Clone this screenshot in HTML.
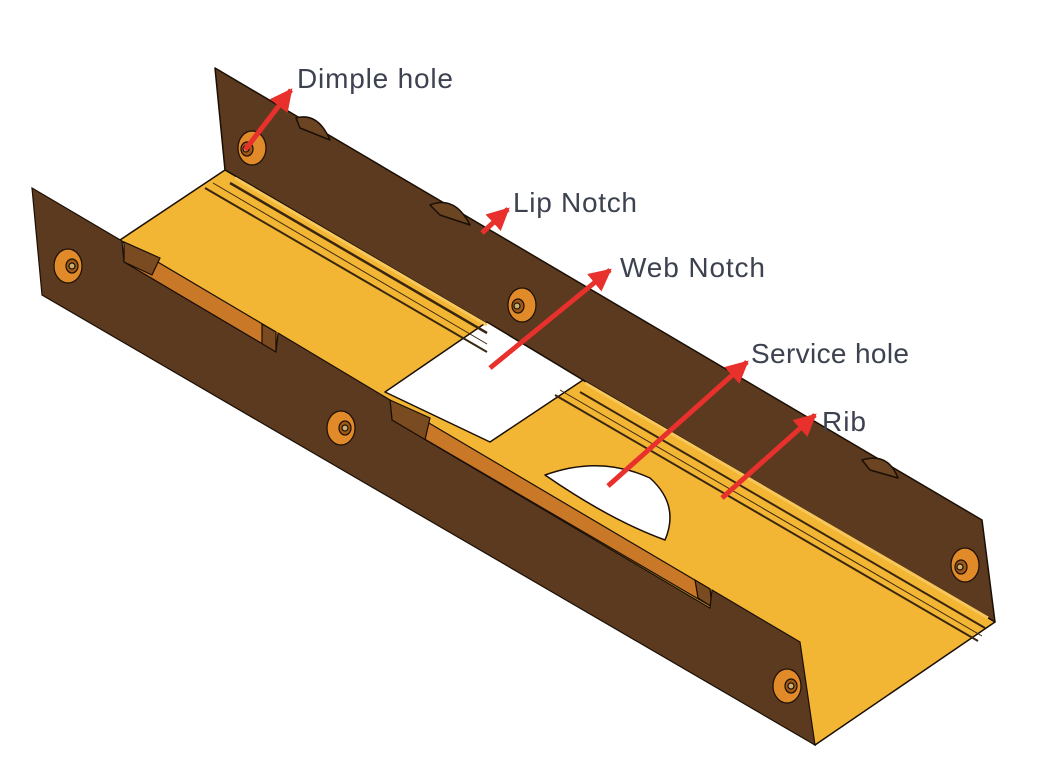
<!DOCTYPE html>
<html><head><meta charset="utf-8"><style>
html,body{margin:0;padding:0;background:#fff;width:1061px;height:762px;overflow:hidden}
svg{display:block}
text{font-family:"Liberation Sans",sans-serif;font-size:28px;fill:#3d4250}
</style></head><body>
<svg width="1061" height="762" viewBox="0 0 1061 762" xmlns="http://www.w3.org/2000/svg">
<g stroke="#1a0f05" stroke-width="1.5" stroke-linejoin="round">
<!-- back flange -->
<polygon points="215,68 982,520 995,622 225,170" fill="#5c3a1f"/>
<!-- lip notch bumps back -->
<path d="M296,118 Q318,112 330,140 L300,128 Z" fill="#6b4422"/>
<path d="M430,205 Q455,195 470,225 L440,215 Z" fill="#6b4422"/>
<path d="M862,460 Q888,452 898,478 L870,470 Z" fill="#6b4422"/>
<!-- web -->
<polygon points="225,170 995,622 815,745 120,240" fill="#f3b634"/>
<!-- web notch gap -->
<polygon points="487,322 583,380 490,442 385,392" fill="#fff" stroke="#1a0f05"/>
<!-- service hole -->
<path d="M545,475 Q600,455 650,478 Q680,505 665,540 Q610,520 545,475 Z" fill="#fff"/>
</g>
<!-- ribs -->
<g stroke="#3a2610" fill="none">
<line x1="205" y1="188" x2="487" y2="352" stroke-width="2"/>
<line x1="213" y1="183" x2="487" y2="344" stroke-width="1"/>
<line x1="230" y1="183" x2="487" y2="333" stroke-width="2.5"/>
<line x1="555" y1="395" x2="978" y2="641" stroke-width="2"/>
<line x1="560" y1="390" x2="982" y2="636" stroke-width="1"/>
<line x1="580" y1="392" x2="985" y2="628" stroke-width="2"/>
</g>
<line x1="235" y1="178" x2="487" y2="325" stroke="#f7c75a" stroke-width="3"/>
<line x1="585" y1="383" x2="988" y2="618" stroke="#f7c75a" stroke-width="3"/>
<!-- orange notch bands -->
<g stroke="#1a0f05" stroke-width="1.2">
<polygon points="124,242 276,332 276,352 124,262" fill="#c97828"/>
<polygon points="124,242 160,258 152,275 124,262" fill="#7a4a20"/>
<polygon points="262,324 276,332 276,352 262,346" fill="#7a4a20"/>
<polygon points="390,400 710,589 712,607 392,420" fill="#c97828"/>
<polygon points="390,400 430,418 425,440 392,420" fill="#7a4a20"/>
<polygon points="695,580 710,589 712,607 698,598" fill="#7a4a20"/>
<!-- front flange -->
<polygon points="32,188 122,241 124,262 276,352 278,333 390,400 392,420 710,608 712,590 800,642 815,745 42,295" fill="#5c3a1f"/>
</g>
<!-- dimples -->
<g stroke="#1a0f05" stroke-width="1.2">
<ellipse cx="252" cy="148" rx="14" ry="17" fill="#e08a2a"/><ellipse cx="247" cy="149" rx="6" ry="7" fill="#a05818"/><circle cx="246" cy="149" r="3" fill="#c8b070"/>
<ellipse cx="522" cy="305" rx="14" ry="17" fill="#e08a2a"/><ellipse cx="518" cy="306" rx="6" ry="7" fill="#a05818"/><circle cx="517" cy="306" r="3" fill="#c8b070"/>
<ellipse cx="965" cy="565" rx="14" ry="17" fill="#e08a2a"/><ellipse cx="961" cy="567" rx="6" ry="7" fill="#a05818"/><circle cx="960" cy="567" r="3" fill="#c8b070"/>
<ellipse cx="68" cy="266" rx="14" ry="17" fill="#e08a2a"/><ellipse cx="72" cy="266" rx="6" ry="7" fill="#a05818"/><circle cx="72" cy="266" r="3" fill="#c8b070"/>
<ellipse cx="341" cy="428" rx="14" ry="17" fill="#e08a2a"/><ellipse cx="345" cy="428" rx="6" ry="7" fill="#a05818"/><circle cx="345" cy="428" r="3" fill="#c8b070"/>
<ellipse cx="787" cy="686" rx="14" ry="17" fill="#e08a2a"/><ellipse cx="791" cy="686" rx="6" ry="7" fill="#a05818"/><circle cx="791" cy="686" r="3" fill="#c8b070"/>
</g>
<!-- arrows -->
<defs><marker id="a" viewBox="0 0 10 10" refX="9" refY="5" markerWidth="4.5" markerHeight="4.5" orient="auto"><path d="M0,0 L10,5 L0,10 Z" fill="#e8302c"/></marker></defs>
<g stroke="#e8302c" stroke-width="5" marker-end="url(#a)">
<line x1="245" y1="150" x2="291" y2="90"/>
<line x1="482" y1="233" x2="508" y2="209"/>
<line x1="490" y1="368" x2="610" y2="270"/>
<line x1="608" y1="486" x2="747" y2="362"/>
<line x1="722" y1="498" x2="815" y2="415"/>
</g>
<text x="297" y="88" textLength="156">Dimple hole</text>
<text x="513" y="212" textLength="124">Lip Notch</text>
<text x="620" y="277" textLength="145">Web Notch</text>
<text x="751" y="363" textLength="158">Service hole</text>
<text x="822" y="431" textLength="44">Rib</text>
</svg>
</body></html>
